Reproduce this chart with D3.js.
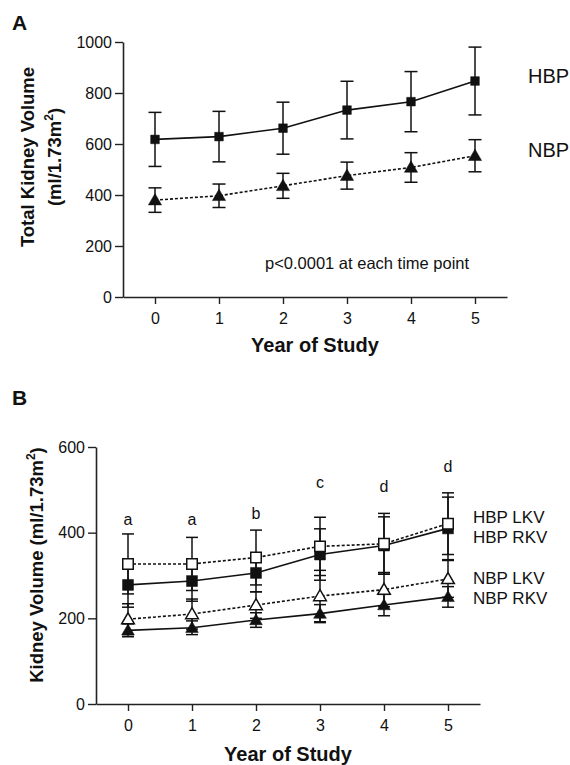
<!DOCTYPE html>
<html>
<head>
<meta charset="utf-8">
<script src="https://cdn.jsdelivr.net/npm/d3@7"></script>
<style>
  body { margin: 0; background: #fff; }
  text { font-family: "Liberation Sans", Arial, sans-serif; fill: #111; }
</style>
</head>
<body>
<svg id="chart"></svg>
<script>
// ---- data ----
const years = [0, 1, 2, 3, 4, 5];

// panel A: total kidney volume (mean, sd)
const hbpTotal = [618, 629, 662, 733, 766, 847];
const hbpTotalSd = [106, 99, 102, 113, 118, 133];
const nbpTotal = [380, 397, 436, 476, 508, 554];
const nbpTotalSd = [48, 46, 49, 53, 58, 63];

// panel B: left / right kidney volume (mean, sd)
const hbpLkv = [327, 327, 342, 368, 374, 421];
const hbpLkvSd = [70, 62, 64, 68, 71, 72];
const hbpRkv = [278, 287, 306, 349, 370, 410];
const hbpRkvSd = [52, 47, 44, 60, 67, 73];
const nbpLkv = [198, 210, 231, 252, 267, 292];
const nbpLkvSd = [36, 35, 31, 60, 40, 43];
const nbpRkv = [172, 178, 196, 211, 231, 250];
const nbpRkvSd = [15, 16, 17, 21, 25, 24];

// significance letters above each time point in panel B
const sigLetters = ["a", "a", "b", "c", "d", "d"];
const sigLevel = [418, 418, 432, 504, 495, 542];

const ticksA = [0, 200, 400, 600, 800, 1000];
const ticksB = [0, 200, 400, 600];

const W = 570, H = 765;
const svg = d3.select("#chart").attr("width", W).attr("height", H);

function series(mean, sd) {
  return years.map((x, i) => ({ x: x, y: mean[i], sd: sd[i] }));
}

function drawAxes(g, x, y, yTicks, titleY) {
  const xa = g.append("g")
    .attr("transform", "translate(0," + y.range()[0] + ")")
    .call(d3.axisBottom(x).tickValues(years).tickFormat(d3.format("d"))
      .tickSize(7).tickSizeOuter(0).tickPadding(5));
  const ya = g.append("g")
    .attr("transform", "translate(" + x.range()[0] + ",0)")
    .call(d3.axisLeft(y).tickValues(yTicks).tickFormat(d3.format("d"))
      .tickSize(8).tickSizeOuter(0).tickPadding(3));
  [xa, ya].forEach(a => {
    a.select(".domain").attr("stroke", "#222").attr("stroke-width", 1.6);
    a.selectAll(".tick line").attr("stroke", "#222").attr("stroke-width", 1.4);
    a.selectAll(".tick text").attr("font-size", 16).attr("fill", "#111")
      .attr("font-family", "Liberation Sans, Arial, sans-serif");
  });
  xa.selectAll(".tick text").attr("dy", "0.95em");

  g.append("text")
    .attr("x", (x(0) + x(5)) / 2)
    .attr("y", titleY)
    .attr("text-anchor", "middle")
    .attr("font-size", 20)
    .attr("font-weight", "bold")
    .text("Year of Study");
}

function drawSeries(g, x, y, data, opt) {
  const grp = g.append("g");
  // error bars
  const eb = grp.selectAll(".eb").data(data).enter().append("g")
    .attr("stroke", "#111").attr("stroke-width", 1.5);
  eb.append("line")
    .attr("x1", d => x(d.x)).attr("x2", d => x(d.x))
    .attr("y1", d => y(d.y - d.sd)).attr("y2", d => y(d.y + d.sd));
  eb.append("line")
    .attr("x1", d => x(d.x) - opt.cap).attr("x2", d => x(d.x) + opt.cap)
    .attr("y1", d => y(d.y + d.sd)).attr("y2", d => y(d.y + d.sd));
  eb.append("line")
    .attr("x1", d => x(d.x) - opt.cap).attr("x2", d => x(d.x) + opt.cap)
    .attr("y1", d => y(d.y - d.sd)).attr("y2", d => y(d.y - d.sd));

  // line
  grp.append("path")
    .datum(data)
    .attr("fill", "none")
    .attr("stroke", "#111")
    .attr("stroke-width", 1.6)
    .attr("stroke-dasharray", opt.dashed ? "3,2" : null)
    .attr("d", d3.line().x(d => x(d.x)).y(d => y(d.y)));

  // markers
  const sym = d3.symbol().type(opt.shape === "square" ? d3.symbolSquare : d3.symbolTriangle).size(opt.size);
  grp.selectAll(".m").data(data).enter().append("path")
    .attr("transform", d => "translate(" + x(d.x) + "," + (y(d.y) + (opt.shape === "square" ? 0 : 1)) + ")")
    .attr("d", sym)
    .attr("fill", opt.open ? "#fff" : "#111")
    .attr("stroke", "#111")
    .attr("stroke-width", opt.open ? 1.5 : 0.5);
}

// ---------------- Panel A ----------------
const gA = svg.append("g");
const xA = d3.scaleLinear().domain([-0.5, 5.5]).range([123, 507]);
const yA = d3.scaleLinear().domain([0, 1000]).range([297, 42]);

gA.append("text").attr("x", 12).attr("y", 30)
  .attr("font-size", 21).attr("font-weight", "bold").text("A");

drawAxes(gA, xA, yA, ticksA, 352);

drawSeries(gA, xA, yA, series(nbpTotal, nbpTotalSd), { dashed: true, shape: "triangle", open: false, size: 75, cap: 6.5 });
drawSeries(gA, xA, yA, series(hbpTotal, hbpTotalSd), { dashed: false, shape: "square", open: false, size: 75, cap: 6.5 });

gA.append("text").attr("x", 528).attr("y", 83).attr("font-size", 20).text("HBP");
gA.append("text").attr("x", 528).attr("y", 157).attr("font-size", 20).text("NBP");

gA.append("text").attr("x", 265).attr("y", 269).attr("font-size", 16.5)
  .text("p<0.0001 at each time point");

const labA = gA.append("text")
  .attr("transform", "translate(0,157) rotate(-90)")
  .attr("text-anchor", "middle")
  .attr("font-size", 18.5).attr("font-weight", "bold");
labA.append("tspan").attr("x", 0).attr("y", 34).text("Total Kidney Volume");
labA.append("tspan").attr("x", 0).attr("y", 61).text("(ml/1.73m");
labA.append("tspan").attr("font-size", 12).attr("dy", -8).text("2");
labA.append("tspan").attr("dy", 8).text(")");

// ---------------- Panel B ----------------
const gB = svg.append("g");
const xB = d3.scaleLinear().domain([-0.5, 5.5]).range([96, 480]);
const yB = d3.scaleLinear().domain([0, 600]).range([704, 447]);

gB.append("text").attr("x", 12).attr("y", 405)
  .attr("font-size", 21).attr("font-weight", "bold").text("B");

drawAxes(gB, xB, yB, ticksB, 761);

drawSeries(gB, xB, yB, series(nbpRkv, nbpRkvSd), { dashed: false, shape: "triangle", open: false, size: 70, cap: 6 });
drawSeries(gB, xB, yB, series(nbpLkv, nbpLkvSd), { dashed: true, shape: "triangle", open: true, size: 70, cap: 6 });
drawSeries(gB, xB, yB, series(hbpRkv, hbpRkvSd), { dashed: false, shape: "square", open: false, size: 120, cap: 6 });
drawSeries(gB, xB, yB, series(hbpLkv, hbpLkvSd), { dashed: true, shape: "square", open: true, size: 110, cap: 6 });

gB.selectAll(".sig").data(years).enter().append("text")
  .attr("x", d => xB(d))
  .attr("y", (d, i) => yB(sigLevel[i]))
  .attr("text-anchor", "middle")
  .attr("font-size", 16)
  .text((d, i) => sigLetters[i]);

const legendB = [
  { label: "HBP LKV", y: 523 },
  { label: "HBP RKV", y: 543 },
  { label: "NBP LKV", y: 584 },
  { label: "NBP RKV", y: 604 }
];
gB.selectAll(".lg").data(legendB).enter().append("text")
  .attr("x", 473).attr("y", d => d.y)
  .attr("font-size", 17)
  .text(d => d.label);

const labB = gB.append("text")
  .attr("transform", "translate(43,565) rotate(-90)")
  .attr("text-anchor", "middle")
  .attr("font-size", 18.5).attr("font-weight", "bold");
labB.append("tspan").text("Kidney Volume (ml/1.73m");
labB.append("tspan").attr("font-size", 12).attr("dy", -8).text("2");
labB.append("tspan").attr("dy", 8).text(")");
</script>
</body>
</html>
